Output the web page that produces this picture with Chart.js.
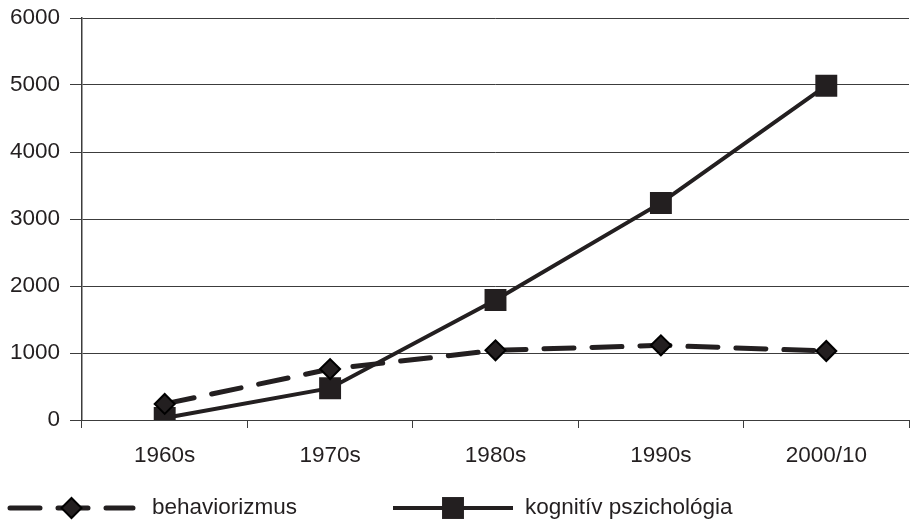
<!DOCTYPE html>
<html>
<head>
<meta charset="utf-8">
<script src="https://cdn.jsdelivr.net/npm/chart.js@4/dist/chart.umd.min.js"></script>
<style>
  html, body { margin: 0; padding: 0; background: #ffffff; }
  #wrap { width: 912px; height: 523px; position: relative; }
</style>
</head>
<body>
<div id="wrap"><canvas id="c" width="912" height="523"></canvas></div>
<script>
const categories = ['1960s', '1970s', '1980s', '1990s', '2000/10'];
const behaviorizmus = [240, 760, 1040, 1115, 1030];
const kognitiv = [30, 475, 1790, 3240, 4990];
const seriesNames = ['behaviorizmus', 'kognitív pszichológia'];
const yTicks = [0, 1000, 2000, 3000, 4000, 5000, 6000];

const INK = '#231f20';
const GRID = '#3c3c3c';
const FONT = "'Liberation Sans', Arial, sans-serif";
const FS = 22.5;

const legendPlugin = {
  id: 'customLegend',
  afterDraw(chart) {
    const ctx = chart.ctx;
    const items = [
      { x0: 10, x1: 133, tx: 152, ds: chart.data.datasets[0] },
      { x0: 393, x1: 513, tx: 525, ds: chart.data.datasets[1] }
    ];
    const y = 508;
    ctx.save();
    items.forEach(it => {
      const ds = it.ds;
      ctx.beginPath();
      ctx.strokeStyle = ds.borderColor;
      ctx.lineWidth = ds.borderWidth;
      ctx.lineCap = ds.borderCapStyle || 'butt';
      ctx.setLineDash(ds.borderDash || []);
      ctx.moveTo(it.x0, y);
      ctx.lineTo(it.x1, y);
      ctx.stroke();
      ctx.setLineDash([]);
      const cx = (it.x0 + it.x1) / 2;
      const r = ds.pointRadius;
      ctx.beginPath();
      if (ds.pointStyle === 'rectRot') {
        ctx.moveTo(cx - r, y); ctx.lineTo(cx, y - r); ctx.lineTo(cx + r, y); ctx.lineTo(cx, y + r);
      } else {
        const s = Math.SQRT1_2 * r;
        ctx.rect(cx - s, y - s, 2 * s, 2 * s);
      }
      ctx.closePath();
      ctx.fillStyle = ds.pointBackgroundColor;
      ctx.fill();
      if (ds.pointBorderWidth) {
        ctx.lineWidth = ds.pointBorderWidth;
        ctx.strokeStyle = ds.pointBorderColor;
        ctx.stroke();
      }
      ctx.fillStyle = INK;
      ctx.font = FS + 'px ' + FONT;
      ctx.textBaseline = 'middle';
      ctx.textAlign = 'left';
      ctx.fillText(ds.label, it.tx, y);
    });
    ctx.restore();
  }
};

new Chart(document.getElementById('c'), {
  type: 'line',
  data: {
    labels: categories,
    datasets: [
      {
        label: seriesNames[0],
        data: behaviorizmus,
        borderColor: INK,
        borderWidth: 5,
        borderDash: [30, 18],
        borderCapStyle: 'round',
        pointStyle: 'rectRot',
        pointRadius: 10,
        pointBackgroundColor: INK,
        pointBorderColor: '#000000',
        pointBorderWidth: 2,
        tension: 0
      },
      {
        label: seriesNames[1],
        data: kognitiv,
        borderColor: INK,
        borderWidth: 4,
        pointStyle: 'rect',
        pointRadius: 15.5,
        pointBackgroundColor: INK,
        pointBorderColor: INK,
        pointBorderWidth: 0,
        tension: 0
      }
    ]
  },
  plugins: [legendPlugin],
  options: {
    responsive: false,
    animation: false,
    events: [],
    layout: { autoPadding: false, padding: { left: 0, right: 3, top: 18, bottom: 60 } },
    plugins: {
      legend: { display: false },
      tooltip: { enabled: false }
    },
    scales: {
      x: {
        type: 'category',
        offset: true,
        afterFit: (s) => { s.height = 43; s.paddingLeft = 0; s.paddingRight = 0; },
        grid: {
          offset: true,
          drawOnChartArea: false,
          drawTicks: true,
          tickLength: 8,
          color: GRID,
          lineWidth: 1
        },
        border: { display: true, color: GRID, width: 1 },
        ticks: {
          color: INK,
          font: { family: FONT, size: FS },
          padding: 14,
          maxRotation: 0
        }
      },
      y: {
        min: 0,
        max: 6000,
        afterFit: (s) => { s.width = 82; s.paddingTop = 0; s.paddingBottom = 0; },
        afterBuildTicks: (s) => { s.ticks = yTicks.map(v => ({ value: v })); },
        grid: {
          drawOnChartArea: true,
          drawTicks: true,
          tickLength: 12,
          color: GRID,
          lineWidth: 1
        },
        border: { display: true, color: GRID, width: 1.5 },
        ticks: {
          color: INK,
          font: { family: FONT, size: FS },
          padding: 10,
          callback: (v) => String(v)
        }
      }
    }
  }
});
</script>
</body>
</html>
